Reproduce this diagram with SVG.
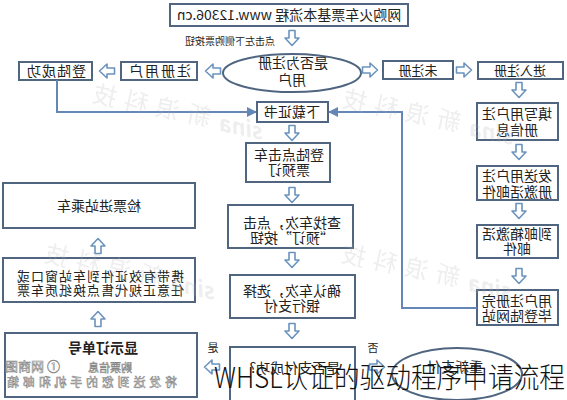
<svg xmlns="http://www.w3.org/2000/svg" xmlns:xlink="http://www.w3.org/1999/xlink" width="567" height="400" viewBox="0 0 567 400">
<style>
.box{fill:#fff;stroke:#4f6580;stroke-width:2}
.t{font-family:"Noto Sans CJK SC","Liberation Sans",sans-serif;font-size:14px;fill:#222;text-anchor:middle}
.s{font-size:13px}
.ar{fill:#fff;stroke:#6b93bd;stroke-width:1.6;stroke-linejoin:round}
.cn{fill:none;stroke:#6587b8;stroke-width:2}
.wm{font-family:"Noto Sans CJK SC","Liberation Sans",sans-serif;fill:#b0b0b0;opacity:.22}
.hol{font-family:"Noto Sans CJK SC","Liberation Sans",sans-serif;fill:#fff;stroke:#888;stroke-width:.6}
</style>
<defs>
<path id="dn" d="M-3,-7.5H3V0H7L0,7.5L-7,0H-3Z"/>
<marker id="ah" viewBox="0 0 10 10" refX="9" refY="5" markerWidth="5" markerHeight="5" orient="auto" markerUnits="strokeWidth">
<path d="M0,0L10,5L0,10Z" fill="#6587b8"/>
</marker>
</defs>
<g transform="matrix(-1 0 0 1 567 0)">
<g id="title"><rect class="box" x="159" y="4" width="238" height="22"/><text class="t" x="278" y="20">网购火车票基本流程 www.12306.cn</text></g>
<text class="t" style="font-size:10px;text-anchor:start" x="292" y="45">点击左下侧购票按钮</text>
<g id="isreg"><ellipse class="box" cx="275" cy="73" rx="69" ry="19"/><text class="t" x="274" y="68">是否为注册</text><text class="t" x="275" y="85">用户</text></g>
<g id="reguser"><rect class="box" x="370" y="62" width="76" height="18"/><text class="t" x="408" y="76" letter-spacing="2">注册用户</text></g>
<g id="loginok"><rect class="box" x="475" y="62" width="73" height="18"/><text class="t" x="511" y="76" letter-spacing="1">登陆成功</text></g>
<g id="unreg"><rect class="box" x="114" y="61" width="70" height="18"/><text class="t s" x="149" y="75">未注册</text></g>
<g id="enterreg"><rect class="box" x="4" y="62" width="85" height="17"/><text class="t s" x="47" y="75">进入注册</text></g>
<g id="fill"><rect class="box" x="9" y="103" width="81" height="37"/><text class="t" x="50" y="119">填写用户注</text><text class="t" x="50" y="135">册信息</text></g>
<g id="send"><rect class="box" x="9" y="166" width="81" height="34"/><text class="t" x="50" y="181">发送用户注</text><text class="t" x="50" y="197">册激活邮件</text></g>
<g id="mail"><rect class="box" x="9" y="225" width="81" height="33"/><text class="t" x="50" y="239">到邮箱激活</text><text class="t" x="50" y="254">邮件</text></g>
<g id="done"><rect class="box" x="9" y="290" width="81" height="35"/><text class="t" x="50" y="306">用户注册完</text><text class="t" x="50" y="321">毕登陆网站</text></g>
<g id="cert"><rect class="box" x="239" y="102" width="71" height="20"/><text class="t" x="275" y="117">下载证书</text></g>
<g id="book"><rect class="box" x="237" y="143" width="84" height="39"/><text class="t" x="278" y="160">登陆点击车</text><text class="t" x="278" y="175">票预订</text></g>
<g id="find"><rect class="box" x="214" y="205" width="125" height="43"/><text class="t" x="275" y="228">查找车次，点击</text><text class="t" x="275" y="243">“预订”按钮</text></g>
<g id="confirm"><rect class="box" x="212" y="275" width="125" height="43"/><text class="t" x="275" y="296">确认车次，选择</text><text class="t" x="275" y="311">银行支付</text></g>
<g id="paid"><rect class="box" x="212" y="347" width="125" height="63"/><text class="t" x="272" y="373">是否支付成功?</text></g>
<g id="repay"><ellipse class="box" cx="110" cy="374" rx="65" ry="26"/><text class="t" x="112" y="372">重新支付</text></g>
<g id="checkin"><rect class="box" x="372" y="183" width="192" height="45"/><text class="t" x="468" y="211">检票进站乘车</text></g>
<g id="carry"><rect class="box" x="372" y="258" width="192" height="44"/><text class="t s" x="467" y="281" letter-spacing="1">携带有效证件到车站窗口或</text><text class="t s" x="467" y="295" letter-spacing="1">任意正规代售点换纸质车票</text></g>
<g id="order"><rect class="box" x="370" y="333" width="192" height="64"/><text class="t" x="464" y="353" font-weight="bold">显示订单号</text><text class="hol" x="435" y="372" font-size="11">购票信息</text><text class="hol" x="390" y="387" font-size="12" textLength="170">将发送到您的手机和邮箱</text></g>
<text class="t" style="font-size:11px" x="354" y="352">是</text>
<text class="t" style="font-size:11px" x="194" y="352">否</text>
<g id="connectors">
<path class="cn" d="M90,308H165V112H238" marker-end="url(#ah)"/>
<path class="cn" d="M510,80V112H311" marker-end="url(#ah)"/>
<use xlink:href="#dn" class="ar" transform="translate(275,38)"/>
<use xlink:href="#dn" class="ar" transform="translate(354,71) rotate(-90)"/>
<use xlink:href="#dn" class="ar" transform="translate(460,71) rotate(-90)"/>
<use xlink:href="#dn" class="ar" transform="translate(197,70) rotate(90)"/>
<use xlink:href="#dn" class="ar" transform="translate(103,70) rotate(90)"/>
<use xlink:href="#dn" class="ar" transform="translate(48,90)"/>
<use xlink:href="#dn" class="ar" transform="translate(48,152)"/>
<use xlink:href="#dn" class="ar" transform="translate(48,211)"/>
<use xlink:href="#dn" class="ar" transform="translate(48,276)"/>
<use xlink:href="#dn" class="ar" transform="translate(275,133)"/>
<use xlink:href="#dn" class="ar" transform="translate(275,195)"/>
<use xlink:href="#dn" class="ar" transform="translate(275,260)"/>
<use xlink:href="#dn" class="ar" transform="translate(275,331)"/>
<use xlink:href="#dn" class="ar" transform="translate(469,246) rotate(180)"/>
<use xlink:href="#dn" class="ar" transform="translate(469,319) rotate(180)"/>
<use xlink:href="#dn" class="ar" transform="translate(355,367) rotate(-90)"/>
<use xlink:href="#dn" class="ar" transform="translate(190,367) rotate(90)"/>
</g>
<g class="wm">
<g transform="translate(304,140) rotate(-12)"><text font-size="22" font-weight="bold" font-style="italic" x="0" y="0">sina</text><text font-size="24" letter-spacing="8" x="56" y="-2">新浪科技</text></g>
<g transform="translate(54,145) rotate(-12)"><text font-size="22" font-weight="bold" font-style="italic" x="0" y="0">sina</text><text font-size="24" letter-spacing="8" x="56" y="-2">新浪科技</text></g>
<g transform="translate(55,300) rotate(-12)"><text font-size="22" font-weight="bold" font-style="italic" x="0" y="0">sina</text><text font-size="24" letter-spacing="8" x="56" y="-2">新浪科技</text></g>
<g transform="translate(352,300) rotate(-12)"><text font-size="22" font-weight="bold" font-style="italic" x="0" y="0">sina</text><text font-size="24" letter-spacing="8" x="56" y="-2">新浪科技</text></g>
</g>
</g>
<text class="hol" x="5" y="371" font-size="13">图商网 ①</text>
<text x="214" y="388" font-family="'Noto Sans CJK SC','Liberation Sans',sans-serif" font-size="28" font-weight="300" fill="#111" textLength="351" lengthAdjust="spacingAndGlyphs">WHSL认证的驱动程序申请流程</text>
</svg>
